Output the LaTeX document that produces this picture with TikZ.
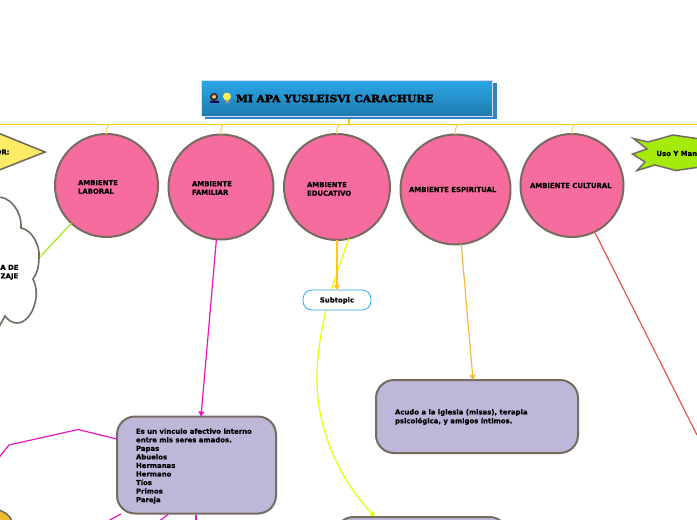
\documentclass[tikz,border=0pt]{standalone}
\usepackage{fontspec}
\setmainfont[BoldFeatures={FakeBold=0.4}]{DejaVu Sans}
\newfontfamily\titlefont[BoldFeatures={FakeBold=3,FakeStretch=1.07}]{DejaVu Serif}
\newfontfamily\emojifont{Noto Emoji}
\usetikzlibrary{arrows.meta}
\definecolor{pinkfill}{HTML}{F76C9E}
\definecolor{edgebrown}{HTML}{756B5E}
\definecolor{lilac}{HTML}{BDB7D9}
\definecolor{topline}{HTML}{FFCC00}
\definecolor{stub}{HTML}{F7D560}
\definecolor{shadowblue}{HTML}{2E86C1}
\definecolor{bluetop}{HTML}{2AA7E8}
\definecolor{bluebot}{HTML}{1F7BAE}
\definecolor{magentaline}{HTML}{E815C0}
\definecolor{limeline}{HTML}{A8E81E}
\definecolor{redline}{HTML}{E8574A}
\definecolor{amber}{HTML}{FFC61A}
\definecolor{amberb}{HTML}{F2BC3A}
\definecolor{yellowline}{HTML}{E8FF00}
\definecolor{starfill}{HTML}{A4EB0C}
\definecolor{trifill}{HTML}{FFEB66}
\definecolor{goldfill}{HTML}{F0BC2E}
\tikzset{
  x=1pt,y=-1pt,
  every node/.style={inner sep=0pt,outer sep=0pt},
  topic/.style={circle,draw=edgebrown,line width=2pt,fill=pinkfill,minimum size=#1},
  note/.style={draw=edgebrown,line width=2pt,fill=lilac,rounded corners=18pt,anchor=north west},
  lab/.style={font=\bfseries\fontsize{6.9}{8.55}\selectfont,align=left,anchor=west,text=black},
  link/.style={line width=1.2pt,-{Triangle[length=5pt,width=6pt]}},
  plain/.style={line width=1.2pt},
  stubline/.style={draw=stub,line width=1.2pt,rounded corners=2pt},
}
\begin{document}
\begin{tikzpicture}
\useasboundingbox (0,0) rectangle (697,520);
\clip (0,0) rectangle (697,520);
% main line
\coordinate (lineL) at (0,124.5);
\coordinate (lineR) at (697,124.5);
\draw[topline,line width=1.2pt] (lineL) -- (lineR);
% circles
\node[topic=103pt] (laboral) at (106.5,185.5) {};
\node[topic=105pt] (familiar) at (221,187) {};
\node[topic=106pt] (educativo) at (337,187) {};
\node[topic=110pt] (espiritual) at (455.5,189.5) {};
\node[topic=103pt] (cultural) at (572,185.5) {};
\node[lab] (tlaboral) at (78,187) {AMBIENTE\\LABORAL};
\node[lab] (tfamiliar) at (192,188) {AMBIENTE\\FAMILIAR};
\node[lab] (teducativo) at (307,189) {AMBIENTE\\EDUCATIVO};
\node[lab] (tespiritual) at (409,189.5) {AMBIENTE ESPIRITUAL};
\node[lab] (tcultural) at (530,185.5) {AMBIENTE CULTURAL};
% stubs
\foreach \n/\x in {laboral/106.5,familiar/221,educativo/337,espiritual/455.5,cultural/572}{
  \draw[stubline] (\n.north) -- (\x,127) -- (\x+3,124.5);
}
% title
\node[anchor=north west,minimum width=292pt,minimum height=36pt,fill=shadowblue] (titleshadow) at (204.5,83) {};
\node[anchor=north west,minimum width=291pt,minimum height=36pt,top color=bluetop,bottom color=bluebot,draw=white!85!blue,line width=0.8pt] (title) at (201,80) {};
\fill[black!70!brown] (214,97) circle (4pt);
\fill[black!60!blue] (209.5,103) rectangle (218.5,100.5);
\fill[orange!40!white] (214,96.5) circle (2.2pt);
\fill[yellow!55!white] (227,96.5) circle (4pt);
\fill[black!40] (225.5,100) rectangle (228.5,102.5);
\node[anchor=center,font=\emojifont\fontsize{8}{8}\selectfont,text=black!70!brown,opacity=.5] (icon1) at (214,98) {👩};
\node[anchor=center,font=\emojifont\fontsize{8}{8}\selectfont,text=yellow!70!orange] (icon2) at (227,97.5) {💡};
\node[anchor=west,font=\titlefont\bfseries\fontsize{10}{10}\selectfont] (titletext) at (236,98.5) {MI APA YUSLEISVI CARACHURE};
\draw[stubline,draw=topline] (349,119) -- (349,124.5);
% triangle
\path[draw=edgebrown,line width=1.6pt,fill=trifill] (-2,133) -- (45,152) -- (-2,170.5) -- cycle;
\node[anchor=east,font=\bfseries\fontsize{6.9}{8}\selectfont] (tri) at (9.5,152) {OR:};
% cloud
\path[draw=edgebrown,line width=1.6pt,fill=white] (-3,197.5)
  .. controls (8,195) and (22,210) .. (21,228)
  .. controls (32,230) and (40,245) .. (39,257)
  .. controls (39,266) and (37,274) .. (33,279)
  .. controls (37,288) and (37,296) .. (35,303)
  .. controls (32,315) and (25,323) .. (17,323)
  .. controls (12,323) and (8,320) .. (5,316)
  -- (0,325) -- (-5,325) -- cycle;
\coordinate (cloudedge) at (40,257);
\node[lab,anchor=east,align=center,font=\bfseries\fontsize{6.9}{8.6}\selectfont] (cloudtext) at (18.5,272.3) {A DE\\ZAJE};
% star
\path[draw=edgebrown,line width=1.5pt,fill=starfill] (633.5,138.5) -- (648,142) -- (673,135) -- (700,139) -- (700,167) -- (676,170.5) -- (655,165) -- (637,170.5) -- (645,162) -- (632.5,154) -- (647,149) -- cycle;
\node[lab,anchor=west] (startext) at (656.5,153.5) {Uso Y Man};
% notes
\node[note,minimum width=159pt,minimum height=97pt] (famnote) at (117,416.5) {};
\node[lab,anchor=north west] at (136,428.5) (famtext) {Es un vinculo afectivo interno\\entre mis seres amados.\\Papas\\Abuelos\\Hermanas\\Hermano\\Tíos\\Primos\\Pareja};
\node[note,minimum width=202pt,minimum height=73pt] (espnote) at (376,380) {};
\node[lab,font=\bfseries\fontsize{6.9}{8.8}\selectfont] (esptext) at (395,417) {Acudo a la iglesia (misas), terapia\\psicológica, y amigos íntimos.};
\node[note,minimum width=172pt,minimum height=60pt] (edunote) at (335.5,517) {};
% gold shape
\path[draw=edgebrown,line width=1.6pt,fill=goldfill] (-3,509.5) .. controls (3,511) and (8,514) .. (11,519) -- (11,524) -- (-3,524) -- cycle;
% connectors
\draw[plain,limeline] (laboral.227) -- (cloudedge);
\draw[link,magentaline] (familiar.265) -- (famnote.north -| 201,0);
\draw[link,amberb] (espiritual.276) -- (espnote.north -| 473,0);
\draw[plain,redline] (cultural.296) -- (697,435);
\draw[link,yellowline] (educativo.283) .. controls (332,285) and (317,330) .. (317,380) .. controls (317,430) and (340,480) .. (375,516.5);
\node[anchor=north west,minimum width=68pt,minimum height=20pt,rounded corners=9pt,draw=bluetop,fill=white,line width=0.8pt] (subtopic) at (303,290) {};
\node[font=\bfseries\fontsize{6.9}{8}\selectfont] (tsub) at (337,300.5) {Subtopic};
\draw[link,amber,line width=1.5pt] (educativo.south) -- (subtopic.north);
% magenta from family note
\coordinate (m1) at (78,429.5);
\coordinate (m2) at (9,445);
\coordinate (m3) at (-3,460);
\draw[plain,magentaline] (famnote.west |- 0,439) -- (m1) -- (m2) -- (m3);
\coordinate (m4) at (109,520.5);
\coordinate (m5) at (160,520.5);
\coordinate (m6) at (196,520.5);
\draw[plain,magentaline] (121,514) -- (m4);
\draw[plain,magentaline] (168,514.5) -- (m5);
\draw[plain,magentaline] (196,515) -- (m6);
\end{tikzpicture}
\end{document}
